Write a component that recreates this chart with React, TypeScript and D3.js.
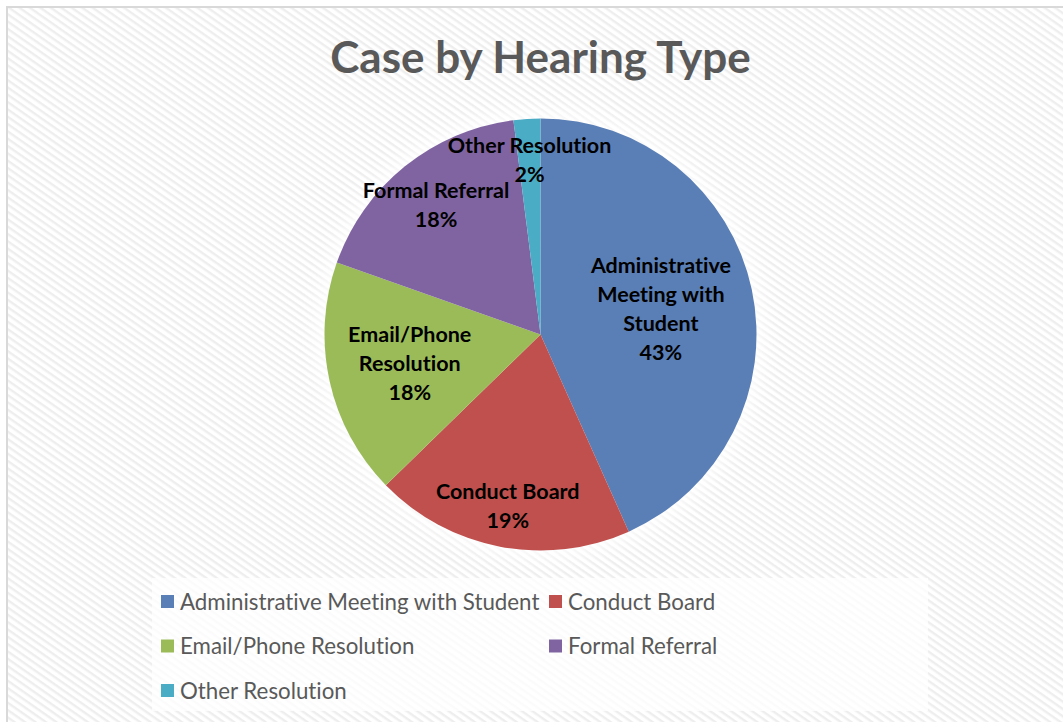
import React from "react";
import * as d3 from "d3";

const categories = [
  "Administrative Meeting with Student",
  "Conduct Board",
  "Email/Phone Resolution",
  "Formal Referral",
  "Other Resolution",
];
const values = [43.3, 19.4, 17.7, 17.6, 2.0];
const labelLines = [
  ["Administrative", "Meeting with", "Student"],
  ["Conduct Board"],
  ["Email/Phone", "Resolution"],
  ["Formal Referral"],
  ["Other Resolution"],
];
const colors = ["#5a7fb6", "#c0504d", "#9bbb59", "#8064a2", "#4bacc6"];
const labelRadiusFactor = [0.57, 0.81, 0.62, 0.77, 0.81];
const title = "Case by Hearing Type";

const W = 1063;
const H = 722;
const cx = 540.5;
const cy = 334.5;
const R = 216;
const FONT = "Lato, 'Open Sans', sans-serif";

export default function App() {
  const total = d3.sum(values);
  const pie = d3.pie<number>().sort(null).value((d) => d)(values);
  const arc = d3.arc<d3.PieArcDatum<number>>().innerRadius(0).outerRadius(R);
  const lh = 29;

  const legendRows = [
    [0, 1],
    [2, 3],
    [4],
  ];
  const colX = [161, 549];
  const rowY = d3.scaleLinear().domain([0, 2]).range([602, 691]);

  return (
    <svg
      width={W}
      height={H}
      style={{ position: "absolute", left: 0, top: 0, display: "block", fontVariantLigatures: "none" }}
    >
      <defs>
        <pattern
          id="stripes"
          width="6"
          height="6"
          patternUnits="userSpaceOnUse"
          patternTransform="rotate(35)"
        >
          <rect width="6" height="6" fill="#ffffff" />
          <rect width="6" height="2.4" fill="#eeeeee" />
        </pattern>
        <filter id="glow" x="-30%" y="-30%" width="160%" height="160%">
          <feGaussianBlur stdDeviation="10" />
        </filter>
      </defs>
      <rect x={0} y={0} width={W} height={H} fill="#ffffff" />
      <rect x={7} y={7} width={W + 20} height={H + 20} fill="url(#stripes)" stroke="#d9d9d9" strokeWidth={2} />
      <text
        x={cx}
        y={73}
        textAnchor="middle"
        fontFamily={FONT}
        fontWeight="bold"
        fontSize={44}
        fill="#595959"
      >
        {title}
      </text>
      <circle cx={cx} cy={cy} r={R + 6} fill="#ffffff" opacity={0.9} filter="url(#glow)" />
      <g transform={`translate(${cx},${cy})`}>
        {pie.map((p, i) => (
          <path key={i} d={arc(p) || ""} fill={colors[i]} />
        ))}
        {pie.map((p, i) => {
          const mid = (p.startAngle + p.endAngle) / 2;
          const r = R * labelRadiusFactor[i];
          const x = Math.sin(mid) * r;
          const y = -Math.cos(mid) * r;
          const lines = [...labelLines[i], `${Math.round((values[i] / total) * 100)}%`];
          const y0 = y - ((lines.length - 1) * lh) / 2;
          return (
            <text
              key={"l" + i}
              textAnchor="middle"
              fontFamily={FONT}
              fontWeight="bold"
              fontSize={21.5}
              fill="#000000"
            >
              {lines.map((t, j) => (
                <tspan key={j} x={x} y={y0 + j * lh} dy="0.35em">
                  {t}
                </tspan>
              ))}
            </text>
          );
        })}
      </g>
      <rect x={152} y={578} width={776} height={133} fill="#ffffff" opacity={0.75} />
      {legendRows.map((row, ri) =>
        row.map((ci, k) => (
          <g key={ci} transform={`translate(${colX[k]},${rowY(ri)})`}>
            <rect x={0} y={-7} width={13} height={13} fill={colors[ci]} />
            <text
              x={19}
              y={0}
              dy="0.35em"
              fontFamily={FONT}
              fontSize={22.3}
              fill="#595959"
            >
              {categories[ci]}
            </text>
          </g>
        ))
      )}
    </svg>
  );
}
